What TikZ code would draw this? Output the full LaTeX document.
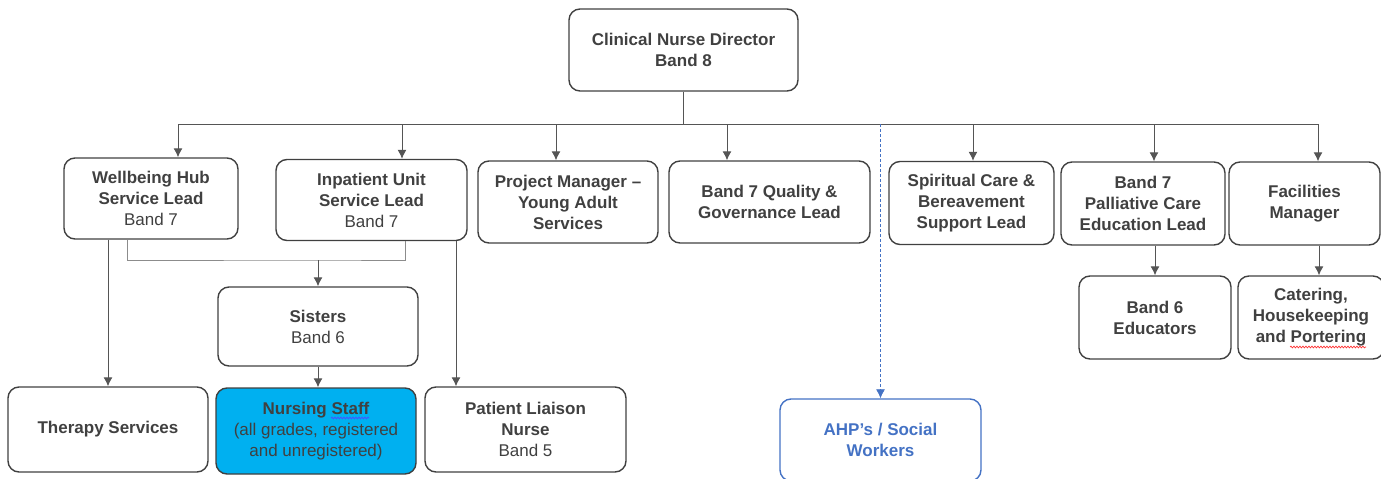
\documentclass[tikz,border=0pt]{standalone}
\usepackage{fontspec}
\setmainfont{Liberation Sans}
\usetikzlibrary{arrows.meta, decorations.pathmorphing}
\definecolor{rand}{HTML}{404040}
\definecolor{schrift}{HTML}{404040}
\definecolor{linie}{HTML}{555555}
\definecolor{hell}{HTML}{8C8C8C}
\definecolor{ahpblau}{HTML}{4472C4}
\definecolor{hellblau}{HTML}{00B0F0}

\begin{document}
\begin{tikzpicture}[x=1pt, y=-1pt,
    kasten/.style={draw=rand, line width=1.4pt, rounded corners=11pt, align=center, text=schrift, inner sep=0pt},
    linie/.style={draw=linie, line width=1pt},
    welle/.style={decorate, decoration={snake, amplitude=0.9pt, segment length=3pt}, line width=0.7pt},
    >={Latex[length=9pt, width=9pt]},   %Pfeilspitzen
    font=\fontsize{17}{21}\selectfont\bfseries]
  \useasboundingbox (0,0) rectangle (1381,479);
  \clip (0,0) rectangle (1381,479);
  % Leitung
  \node[kasten, minimum width=229pt, minimum height=82pt] (cnd) at (683.5,50) {Clinical Nurse Director\\Band 8};
  % zweite Ebene
  \node[kasten, minimum width=174pt, minimum height=81pt] (whub) at (151,198.5) {Wellbeing Hub\\Service Lead\\\mdseries Band 7};
  \node[kasten, minimum width=191pt, minimum height=81pt] (ipu) at (371.5,200) {Inpatient Unit\\Service Lead\\\mdseries Band 7};
  \node[kasten, minimum width=180pt, minimum height=82pt] (pm) at (568,202) {Project Manager --\\Young Adult\\Services};
  \node[kasten, minimum width=201pt, minimum height=82pt] (qual) at (769.5,202) {Band 7 Quality \&\\Governance Lead};
  \node[kasten, minimum width=165pt, minimum height=83pt] (spir) at (971.5,203) {Spiritual Care \&\\Bereavement\\Support Lead};
  \node[kasten, minimum width=164pt, minimum height=83pt] (pall) at (1143,203.5) {Band 7\\Palliative Care\\Education Lead};
  \node[kasten, minimum width=151pt, minimum height=83pt] (fac) at (1304.5,203.5) {Facilities\\Manager};
  % dritte Ebene
  \node[kasten, minimum width=200pt, minimum height=79pt] (sis) at (318,326.5) {Sisters\\\mdseries Band 6};
  \node[kasten, minimum width=152pt, minimum height=83pt] (edu) at (1155,317.5) {Band 6\\Educators};
  \node[kasten, minimum width=146pt, minimum height=83pt] (cat) at (1311,317.5) {Catering,\\Housekeeping\\and Portering};
  % unterste Ebene
  \node[kasten, minimum width=200pt, minimum height=85pt] (ther) at (108,429.5) {Therapy Services};
  \node[kasten, fill=hellblau, minimum width=200pt, minimum height=86pt] (nurs) at (316,431) {Nursing Staff\\\mdseries(all grades, registered\\\mdseries and unregistered)};
  \node[kasten, minimum width=201pt, minimum height=85pt] (pln) at (525.5,429.5) {Patient Liaison\\Nurse\\\mdseries Band 5};
  \node[kasten, draw=ahpblau, text=ahpblau, minimum width=201pt, minimum height=82pt] (ahp) at (880.5,440) {AHP's / Social\\Workers};

  % Verbindungen von oben
  \coordinate (bus) at (683.5,124);
  \draw[linie] (cnd.south) -- (cnd.south |- bus);
  \foreach \n/\dx in {whub/27, ipu/30.5, pm/-12, qual/-42.5, spir/1.5, pall/11, fac/13.5} {
    \coordinate (p\n) at ([xshift=\dx pt]\n.north);
    \draw[linie, ->] (p\n |- bus) -- (p\n);
  }
  \draw[linie] (pwhub |- bus) -- (pfac |- bus);
  \draw[ahpblau, line width=0.8pt, dash pattern=on 3pt off 2pt, ->] (ahp.north |- bus) -- (ahp.north);

  % linker Zweig
  \coordinate (wl) at ([xshift=-24pt]whub.south);
  \coordinate (il) at ([xshift=33.5pt]ipu.south);
  \coordinate (jn) at (318,260);
  \draw[linie, draw=hell] (wl) |- (jn) -| (il);
  \draw[linie, ->] (jn) -- (sis.north);
  \draw[linie, ->] (ther.north |- whub.south) -- (ther.north);
  \coordinate (pl) at ([xshift=-69.5pt]pln.north);
  \draw[linie, ->] (pl |- ipu.south) -- (pl);
  \draw[linie, ->] (sis.south) -- (sis.south |- nurs.north);

  % rechter Zweig
  \draw[linie, ->] (edu.north |- pall.south) -- (edu.north);
  \coordinate (cf) at ([xshift=8pt]cat.north);
  \draw[linie, ->] (cf |- fac.south) -- (cf);

  % Rechtschreibmarken
  \draw[welle, blue!70] (331,418) -- (369,418);
  \draw[welle, red!80] (1290,347) -- (1366,347);
\end{tikzpicture}
\end{document}
